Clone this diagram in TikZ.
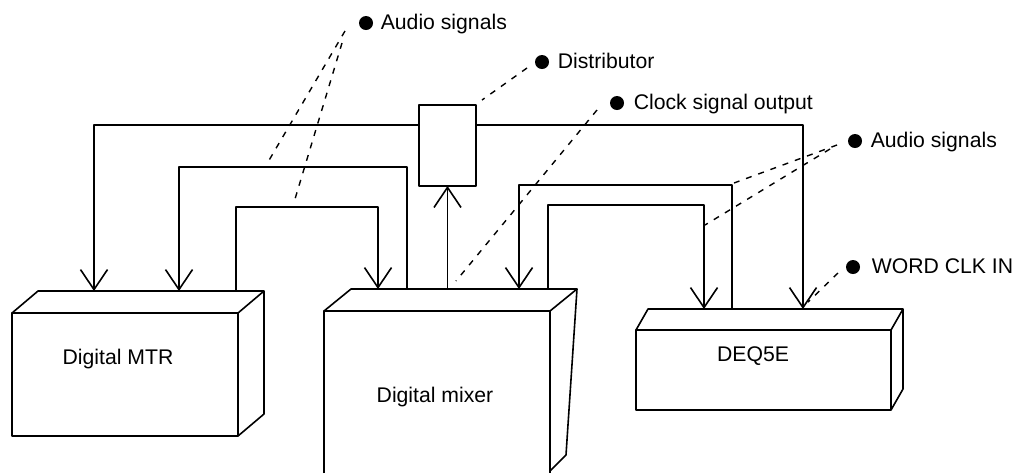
\documentclass[tikz,border=0pt]{standalone}
\usepackage{fontspec}
\setmainfont{Liberation Sans}
\usetikzlibrary{arrows.meta}
\begin{document}
\begin{tikzpicture}[x=0.5pt,y=-0.5pt,line width=0.8pt,line join=round,
  face/.style={draw,inner sep=0pt,outer sep=0pt},
  sig/.style={-{Straight Barb[length=10pt,width=13.5pt]}},
  leader/.style={dash pattern=on 3pt off 3.5pt,line width=0.7pt},
  bullet/.style={circle,fill,inner sep=0pt,minimum size=7pt},
  lbl/.style={anchor=base west,inner sep=0pt,font=\fontsize{10.6}{12.7}\selectfont},
  boxlbl/.style={anchor=base,inner sep=0pt,font=\fontsize{10.6}{12.7}\selectfont}]
\useasboundingbox (0,0) rectangle (1012,473);

% ---- boxes ----
\node[face,minimum width=113pt,minimum height=61.5pt] (mtr) at (125,374.5) {};
\draw (mtr.north west) -- ++(26,-22) -- ++(226,0) -- ++(0,123) -- (mtr.south east);
\draw (mtr.north east) -- ++(26,-22);

\node[inner sep=0pt,outer sep=0pt,minimum width=113pt,minimum height=81pt] (mixer) at (437,392) {};
\draw (mixer.south west) -- (mixer.north west) -- (mixer.north east) -- (mixer.south east);
\draw (mixer.north west) -- ++(27,-22) -- ++(226,0) -- (566,455) -- ([yshift=1pt]mixer.south east);
\draw (mixer.north east) -- ++(27,-22);

\node[face,minimum width=127.5pt,minimum height=40pt] (deq) at (763.5,370) {};
\draw (deq.north west) -- ++(12,-21) -- ++(255,0) -- ++(0,80) -- (deq.south east);
\draw (deq.north east) -- ++(12,-21);

\node[face,minimum width=28.5pt,minimum height=40.5pt] (dist) at (447.5,145.5) {};

\node[boxlbl] (tmtr) at (118,364) {Digital MTR};
\node[boxlbl] (tmix) at (435,402) {Digital mixer};
\node[boxlbl] (tdeq) at (753,361) {DEQ5E};

% ---- ports on top faces ----
\coordinate (mtrIn1) at (94,291);
\coordinate (mtrIn2) at (179,291);
\coordinate (mtrOut1) at (236,291);
\coordinate (mixIn1) at (378,289);
\coordinate (mixOut1) at (407,289);
\coordinate (mixOut2) at (447.5,289);
\coordinate (mixIn2) at (519,289);
\coordinate (mixOut3) at (548,289);
\coordinate (deqIn1) at (704,309);
\coordinate (deqOut1) at (732,309);
\coordinate (deqIn2) at (803,309);

% ---- signal lines ----
\draw[sig] ([yshift=10.25pt]dist.west) -| (mtrIn1);
\draw[sig] ([yshift=10.25pt]dist.east) -| (deqIn2);
\draw[sig] (mixOut1) -- ++(0,-122) -| (mtrIn2);
\draw[sig] (mtrOut1) -- ++(0,-84) -| (mixIn1);
\draw[sig] (mixOut2) -- (mixOut2 |- dist.south);
\draw[sig] (mixOut3) -- ++(0,-84) -| (deqIn1);
\draw[sig] (deqOut1) -- ++(0,-124) -| (mixIn2);

% ---- callouts ----
\node[bullet] (bA1) at (366,23) {};
\node[lbl] (tA1) at (380,29) {Audio signals};
\node[bullet] (bDi) at (542,62) {};
\node[lbl] (tDi) at (557,68) {Distributor};
\node[bullet] (bCk) at (617,103) {};
\node[lbl] (tCk) at (633,109) {Clock signal output};
\node[bullet] (bA2) at (855,141) {};
\node[lbl] (tA2) at (870,147) {Audio signals};
\node[bullet] (bWc) at (853,267) {};
\node[lbl] (tWc) at (871,273) {WORD CLK IN};

\coordinate (a1s) at (345,31);  \coordinate (a1e) at (268,162);
\coordinate (a2s) at (342,43);  \coordinate (a2e) at (295,199);
\coordinate (dis) at (527,68);  \coordinate (die) at (482,100);
\coordinate (cks) at (597,110); \coordinate (cke) at (456,281);
\coordinate (b1s) at (837,145); \coordinate (b1e) at (734,183);
\coordinate (b2s) at (830,149); \coordinate (b2e) at (705,225);
\coordinate (wcs) at (838,273); \coordinate (wce) at (808,302);

\draw[leader] (a1s) -- (a1e);
\draw[leader] (a2s) -- (a2e);
\draw[leader] (dis) -- (die);
\draw[leader] (cks) -- (cke);
\draw[leader] (b1s) -- (b1e);
\draw[leader] (b2s) -- (b2e);
\draw[leader] (wcs) -- (wce);
\end{tikzpicture}
\end{document}
